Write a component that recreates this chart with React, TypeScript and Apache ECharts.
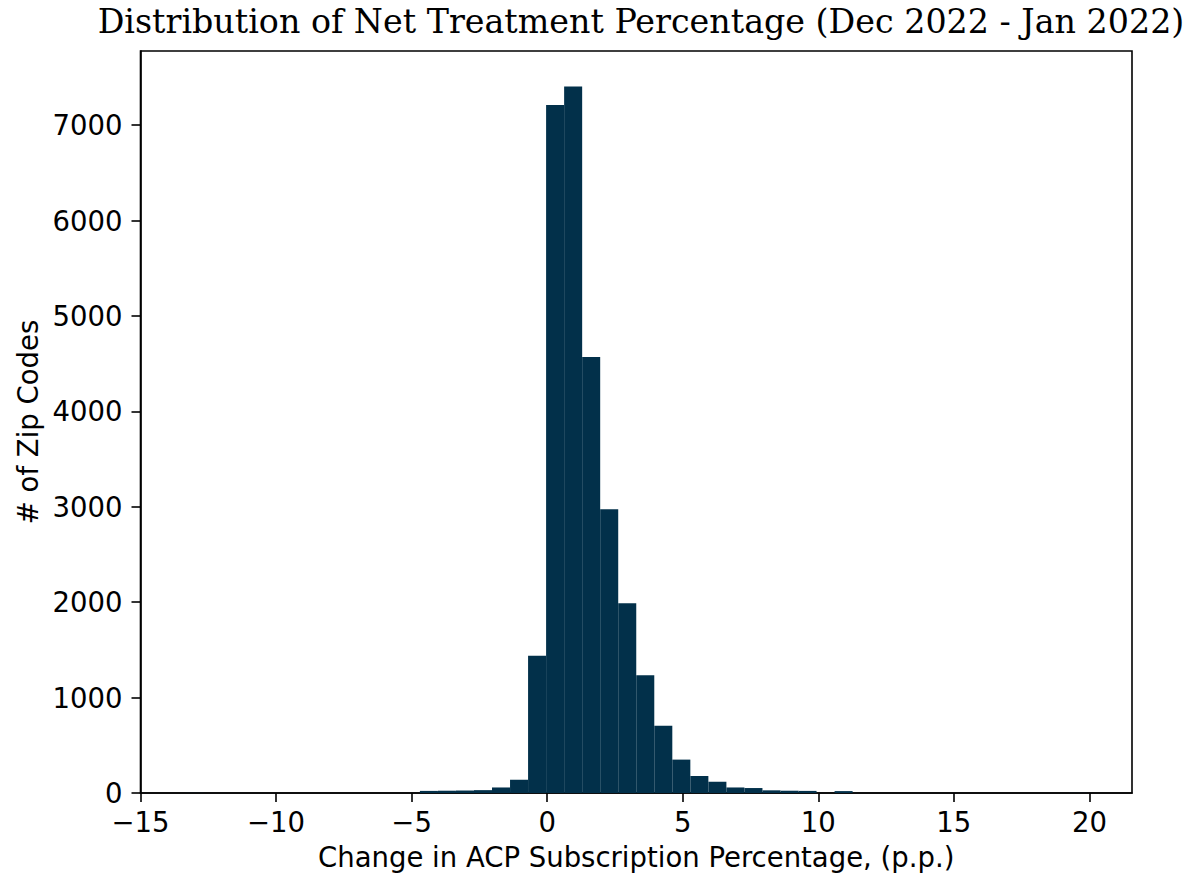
import React, { useEffect, useRef } from "react";
import * as echarts from "echarts";

// Histogram definition: 50 equal bins
const BIN_START = -13.34;
const BIN_WIDTH = 0.665;
const COUNTS = [
  1, 0, 0, 0, 0, 0, 0, 0, 0, 0,
  0, 0, 0, 22, 24, 26, 30, 58, 140, 1439,
  7212, 7405, 4570, 2974, 1988, 1234, 706, 350, 178, 118,
  58, 52, 28, 24, 22, 0, 20, 0, 0, 0,
  0, 0, 0, 0, 0, 0, 0, 0, 0, 1,
];
const X_TICKS = [-15, -10, -5, 0, 5, 10, 15, 20];
const Y_TICKS = [0, 1000, 2000, 3000, 4000, 5000, 6000, 7000];
const X_MIN = -15.0;
const X_MAX = 21.57;
const Y_MAX = 7778;

const TITLE = "Distribution of Net Treatment Percentage (Dec 2022 - Jan 2022)";
const X_NAME = "Change in ACP Subscription Percentage, (p.p.)";
const Y_NAME = "# of Zip Codes";
const BAR_COLOR = "#02304a";

export default function App() {
  const ref = useRef<HTMLDivElement>(null);
  useEffect(() => {
    if (!ref.current) return;
    const chart = echarts.init(ref.current, null, { renderer: "svg" });
    const data = COUNTS.map((c, k) => [
      BIN_START + k * BIN_WIDTH,
      BIN_START + (k + 1) * BIN_WIDTH,
      c,
    ]);
    const fmt = (v: number) => String(v).replace("-", "\u2212");
    const sans = "DejaVu Sans";
    const fs = 27.5;
    chart.setOption({
      animation: false,
      backgroundColor: "#ffffff",
      title: {
        text: TITLE,
        left: 636,
        textAlign: "center",
        top: 0,
        textStyle: {
          fontFamily: "DejaVu Serif",
          fontWeight: "normal",
          fontSize: 33.3,
          color: "#000",
        },
      },
      grid: {
        left: 140.5,
        right: 54,
        top: 51,
        bottom: 87,
        show: true,
        borderColor: "#000",
        borderWidth: 1.6,
        outerBoundsMode: "none",
      },
      xAxis: {
        type: "value",
        min: X_MIN,
        max: X_MAX,
        name: X_NAME,
        nameLocation: "middle",
        nameGap: 50,
        nameTextStyle: { fontFamily: sans, fontSize: fs, color: "#000" },
        splitLine: { show: false },
        axisLine: { show: true, onZero: false, lineStyle: { color: "#000", width: 1.6 } },
        axisTick: {
          show: true,
          inside: false,
          length: 9,
          customValues: X_TICKS,
          lineStyle: { color: "#000", width: 1.6 },
        },
        axisLabel: {
          customValues: X_TICKS,
          formatter: fmt,
          margin: 15,
          fontFamily: sans,
          fontSize: fs,
          color: "#000",
        },
      },
      yAxis: {
        type: "value",
        min: 0,
        max: Y_MAX,
        name: Y_NAME,
        nameLocation: "middle",
        nameGap: 97,
        nameTextStyle: { fontFamily: sans, fontSize: fs, color: "#000" },
        splitLine: { show: false },
        axisLine: { show: true, onZero: false, lineStyle: { color: "#000", width: 1.6 } },
        axisTick: {
          show: true,
          inside: false,
          length: 9,
          customValues: Y_TICKS,
          lineStyle: { color: "#000", width: 1.6 },
        },
        axisLabel: {
          customValues: Y_TICKS,
          formatter: fmt,
          margin: 18,
          fontFamily: sans,
          fontSize: fs,
          color: "#000",
        },
      },
      series: [
        {
          type: "custom",
          data,
          encode: { x: [0, 1], y: 2 },
          renderItem: (params: any, api: any) => {
            const x0 = api.value(0);
            const x1 = api.value(1);
            const y = api.value(2);
            const p0 = api.coord([x0, y]);
            const p1 = api.coord([x1, 0]);
            return {
              type: "rect",
              shape: {
                x: p0[0],
                y: p0[1],
                width: p1[0] - p0[0],
                height: p1[1] - p0[1],
              },
              style: { fill: BAR_COLOR },
            };
          },
        },
      ],
    });
    return () => chart.dispose();
  }, []);
  return (
    <div
      ref={ref}
      style={{ position: "absolute", left: 0, top: 0, width: 1186, height: 880 }}
    />
  );
}
